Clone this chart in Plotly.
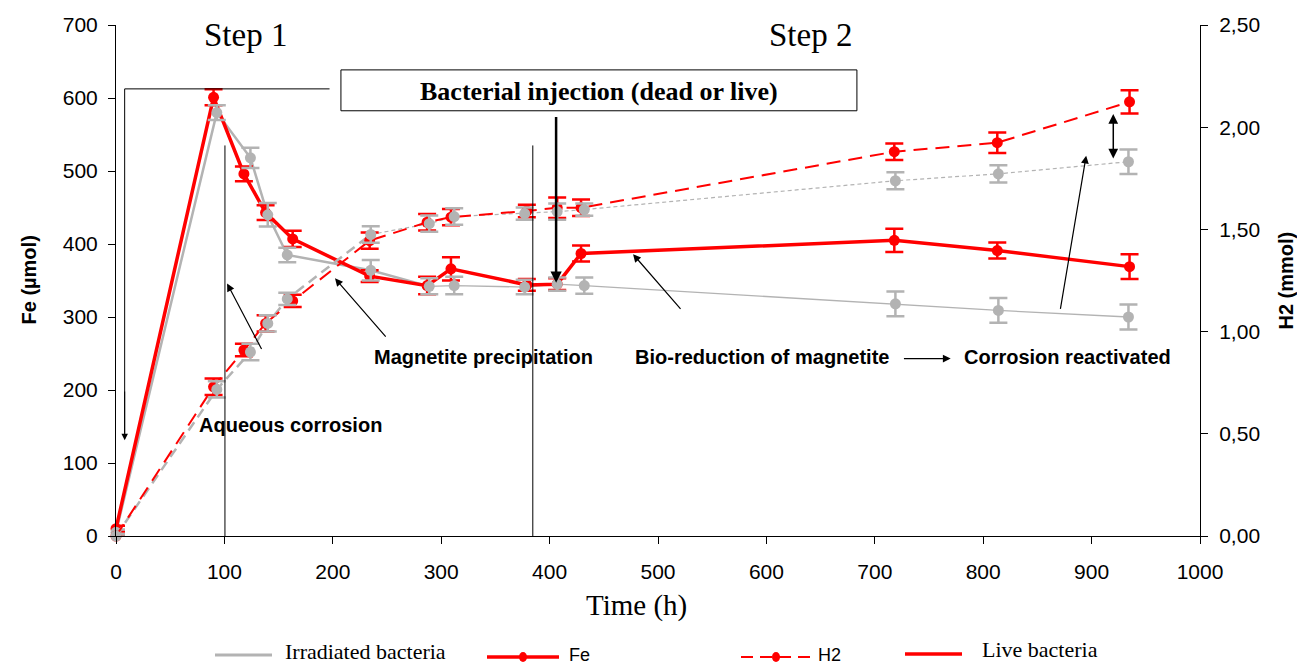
import plotly.graph_objects as go

# time points (h)
t_live = [0, 90, 118, 138, 163, 234, 287, 309, 379, 407, 429, 718, 813, 935]
t_irr = [0, 93, 124, 140, 158, 235, 289, 312, 377, 407, 432, 719, 814, 934]

# Fe (umol)
fe_live = [10, 601, 496, 443, 407, 356, 343, 366, 344, 345, 387, 405, 391, 369]
fe_live_err = [4, 11, 10, 10, 11, 8, 12, 16, 8, 8, 11, 16, 11, 17]
fe_irr = [5, 580, 518, 440, 385, 364, 342, 343, 341, 345, 343, 318, 309, 300]
fe_irr_err = [4, 10, 14, 16, 10, 14, 11, 12, 10, 9, 11, 17, 17, 17]

# H2 (mmol)
h2_live = [0, 0.73, 0.91, 1.04, 1.15, 1.445, 1.535, 1.56, 1.59, 1.606, 1.606, 1.88, 1.924, 2.124]
h2_live_err = [0.01, 0.04, 0.03, 0.04, 0.03, 0.04, 0.04, 0.04, 0.03, 0.05, 0.04, 0.04, 0.05, 0.057]
h2_irr = [0, 0.717, 0.90, 1.04, 1.16, 1.475, 1.528, 1.563, 1.577, 1.587, 1.597, 1.738, 1.772, 1.831]
h2_irr_err = [0.01, 0.04, 0.04, 0.04, 0.03, 0.04, 0.04, 0.04, 0.03, 0.04, 0.03, 0.042, 0.042, 0.06]

h2_ticks = [0, 0.5, 1.0, 1.5, 2.0, 2.5]
h2_ticktext = ["0,00", "0,50", "1,00", "1,50", "2,00", "2,50"]

RED = "#ff0000"
GREY = "#b3b3b3"
SERIF = "Liberation Serif"
SANS = "Liberation Sans"
SPLIT = 6  # grey lines get thinner after this point
NOTE = 20  # bold annotation size

fig = go.Figure()

# grey lines (early thick part, later thin part)
fig.add_trace(go.Scatter(x=t_irr[:SPLIT + 1], y=fe_irr[:SPLIT + 1], mode="lines",
                         line=dict(color=GREY, width=2.5), cliponaxis=False, showlegend=False))
fig.add_trace(go.Scatter(x=t_irr[SPLIT:], y=fe_irr[SPLIT:], mode="lines",
                         line=dict(color=GREY, width=1.3), cliponaxis=False, showlegend=False))
fig.add_trace(go.Scatter(x=t_irr[:SPLIT], y=h2_irr[:SPLIT], mode="lines", yaxis="y2",
                         line=dict(color=GREY, width=2.5, dash="10px,6px"), cliponaxis=False, showlegend=False))
fig.add_trace(go.Scatter(x=t_irr[SPLIT - 1:], y=h2_irr[SPLIT - 1:], mode="lines", yaxis="y2",
                         line=dict(color=GREY, width=1.2, dash="4px,3px"), cliponaxis=False, showlegend=False))

# live bacteria
fig.add_trace(go.Scatter(x=t_live, y=fe_live, mode="lines+markers",
                         line=dict(color=RED, width=3.5),
                         marker=dict(color=RED, size=11),
                         error_y=dict(type="data", array=fe_live_err, color=RED, thickness=2.5, width=9),
                         cliponaxis=False, showlegend=False))
fig.add_trace(go.Scatter(x=t_live, y=h2_live, mode="lines+markers", yaxis="y2",
                         line=dict(color=RED, width=2, dash="14px,8px"),
                         marker=dict(color=RED, size=11),
                         error_y=dict(type="data", array=h2_live_err, color=RED, thickness=2.5, width=9),
                         cliponaxis=False, showlegend=False))

# grey markers on top
fig.add_trace(go.Scatter(x=t_irr, y=fe_irr, mode="markers",
                         marker=dict(color=GREY, size=11),
                         error_y=dict(type="data", array=fe_irr_err, color=GREY, thickness=2.5, width=9),
                         cliponaxis=False, showlegend=False))
fig.add_trace(go.Scatter(x=t_irr, y=h2_irr, mode="markers", yaxis="y2",
                         marker=dict(color=GREY, size=11),
                         error_y=dict(type="data", array=h2_irr_err, color=GREY, thickness=2.5, width=9),
                         cliponaxis=False, showlegend=False))

shapes = [
    # bracket from top-left
    dict(type="line", xref="x", yref="y", x0=8, x1=197, y0=612.5, y1=612.5, line=dict(color="black", width=1)),
    dict(type="line", xref="x", yref="y", x0=8, x1=8, y0=612.5, y1=140, line=dict(color="black", width=1)),
    # thin vertical separators
    dict(type="line", xref="x", yref="y", x0=100.5, x1=100.5, y0=535, y1=0, line=dict(color="black", width=1)),
    dict(type="line", xref="x", yref="y", x0=384.5, x1=384.5, y0=535, y1=0, line=dict(color="black", width=1)),
    # injection box
    dict(type="rect", xref="x", yref="y", x0=207.5, x1=683.5, y0=582.5, y1=638.5,
         line=dict(color="black", width=1), fillcolor="white"),
]

anns = [
    dict(x=119, y=686, text="Step 1", font=dict(family=SERIF, size=33, color="black")),
    dict(x=641, y=686, text="Step 2", font=dict(family=SERIF, size=33, color="black")),
    dict(x=446, y=609, text="<b>Bacterial injection (dead or live)</b>",
         font=dict(family=SERIF, size=26, color="black")),
    dict(x=161, y=152, text="<b>Aqueous corrosion</b>", font=dict(family=SANS, size=NOTE, color="black")),
    dict(x=339, y=245, text="<b>Magnetite precipitation</b>", font=dict(family=SANS, size=NOTE, color="black")),
    dict(x=596, y=245, text="<b>Bio-reduction of magnetite</b>", font=dict(family=SANS, size=NOTE, color="black")),
    dict(x=878, y=245, text="<b>Corrosion reactivated</b>", font=dict(family=SANS, size=NOTE, color="black")),
]
for a in anns:
    a.update(xref="x", yref="y", showarrow=False)

arrows = [
    # (head_x, head_y, tail_x, tail_y, width, both ends)
    (8, 131, 8, 200, 1, False),
    (406, 347, 406, 576, 2.5, False),
    (102.5, 346, 135, 254, 1.2, False),
    (202, 353, 250, 271, 1.2, False),
    (477, 386, 522, 309, 1.2, False),
    (770, 243, 725.5, 243, 1.2, False),
    (895, 521, 871, 309, 1.2, False),
    (920, 578, 920, 515, 1.5, True),
]
for hx, hy, tx, ty, w, both in arrows:
    anns.append(dict(x=hx, y=hy, ax=tx, ay=ty, xref="x", yref="y", axref="x", ayref="y",
                     text="", showarrow=True, arrowhead=2, arrowsize=1.3 if w < 2 else 0.9,
                     arrowwidth=w, arrowcolor="black",
                     arrowside="end+start" if both else "end", startarrowhead=2,
                     startarrowsize=1.3))

# axis titles
anns += [
    dict(xref="paper", yref="paper", x=0.48, y=0, yshift=-69, text="Time (h)", showarrow=False,
         xanchor="center", yanchor="middle", font=dict(family=SERIF, size=29, color="black")),
    dict(xref="paper", yref="paper", x=0, y=0.5, xshift=-88, text="<b>Fe (µmol)</b>", textangle=-90,
         xanchor="center", yanchor="middle", showarrow=False, font=dict(family=SANS, size=20, color="black")),
    dict(xref="paper", yref="paper", x=1, y=0.5, xshift=85, text="<b>H2 (mmol)</b>", textangle=-90,
         xanchor="center", yanchor="middle", showarrow=False, font=dict(family=SANS, size=20, color="black")),
]

# hand-drawn legend below the plot (positions in page pixels)
PX0, PW = 116, 1084.0
PY0, PH = 536, 511.0


def px(xp):
    return (xp - PX0) / PW


def py(yp):
    return (PY0 - yp) / PH


leg = [
    (215, 272, 655, GREY, 3, "solid", False),
    (487, 559, 657, RED, 3.5, "solid", True),
    (741, 811, 657, RED, 2, "12px,7px", True),
    (905, 962, 654, RED, 3.5, "solid", False),
]
for x0, x1, yy, col, w, dash, mk in leg:
    shapes.append(dict(type="line", xref="paper", yref="paper", x0=px(x0), x1=px(x1), y0=py(yy), y1=py(yy),
                       line=dict(color=col, width=w, dash=dash)))
    if mk:
        xc = px(523 if x0 < 600 else 776)
        shapes.append(dict(type="circle", xref="paper", yref="paper", xsizemode="pixel", ysizemode="pixel",
                           xanchor=xc, yanchor=py(yy), x0=-4, x1=4, y0=-5, y1=5,
                           fillcolor=col, line=dict(color=col, width=0)))

leg_text = [
    (283, 651, "Irradiated bacteria", SERIF, 22),
    (567, 655, "Fe", SANS, 18),
    (816, 655, "H2", SANS, 18),
    (980, 650, "Live bacteria", SERIF, 22),
]
for xx, yy, txt, fam, sz in leg_text:
    anns.append(dict(xref="paper", yref="paper", x=px(xx), y=py(yy), xanchor="left", yanchor="middle",
                     text=txt, showarrow=False, font=dict(family=fam, size=sz, color="black")))

axis_style = dict(showgrid=False, zeroline=False, showline=True, linecolor="black", linewidth=1,
                  ticks="outside", ticklen=7, tickcolor="black", tickfont=dict(family=SANS, size=21))

fig.update_layout(
    width=1297, height=664,
    margin=dict(l=116, r=97, t=25, b=128),
    plot_bgcolor="white", paper_bgcolor="white",
    font=dict(family=SANS, size=21, color="black"),
    showlegend=False,
    xaxis=dict(range=[0, 1000], tickvals=list(range(0, 1001, 100)), ticklabelstandoff=10, **axis_style),
    yaxis=dict(range=[0, 700], tickvals=list(range(0, 701, 100)), ticklabelstandoff=6, **axis_style),
    yaxis2=dict(range=[0, 2.5], overlaying="y", side="right", tickvals=h2_ticks, ticktext=h2_ticktext,
                ticklabelstandoff=7, **axis_style),
    shapes=shapes,
    annotations=anns,
)

# drop the default 8px page margin so the figure fills the window exactly
fig.write_html("out.html", config={"displayModeBar": False},
               post_script="document.body.style.margin='0px';")
